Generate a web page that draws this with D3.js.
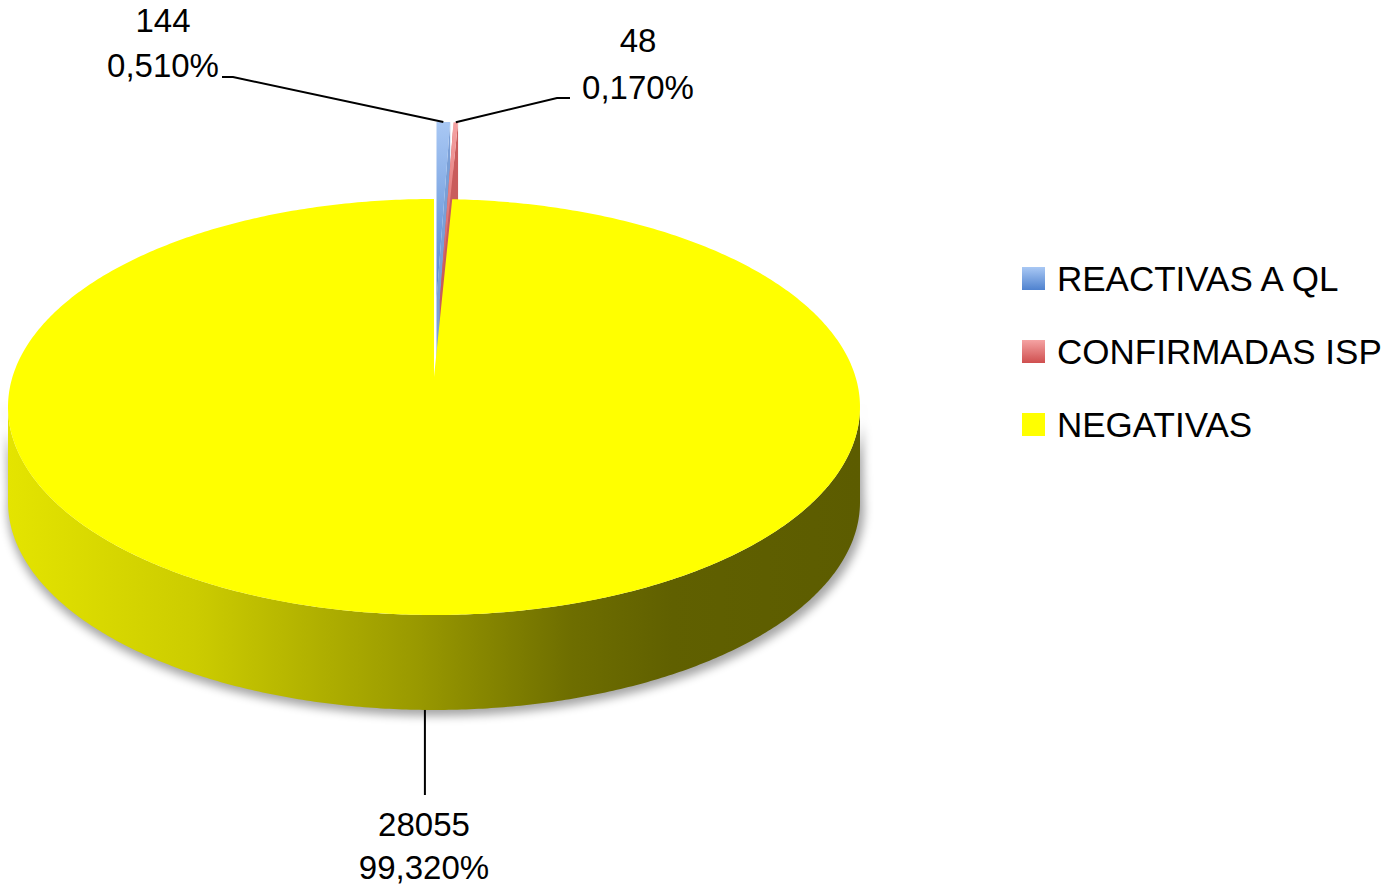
<!DOCTYPE html>
<html><head><meta charset="utf-8">
<script src="https://cdn.jsdelivr.net/npm/d3@7"></script>
<style>
body{margin:0;background:#fff}
svg{display:block}
text{font-family:"Liberation Sans",Arial,sans-serif;fill:#000}
</style>
</head><body>
<svg id="chart" width="1384" height="886"></svg>
<script>
// ---- data ----
const categories = ["REACTIVAS A QL", "CONFIRMADAS ISP", "NEGATIVAS"];
const values = [144, 48, 28055];
const exploded = [true, true, false];

// ---- styling ----
const topLight = ["#a9c8f4", "#f5a3a3", "#ffff00"];
const topDark  = ["#4f82cf", "#cf4f4f", "#ffff00"];
const wallCol  = ["#7a9fd6", "#c95c5c", "#9a9a00"];

const W = 1384, H = 886;
const cx = 434, cy = 407, rx = 426, ry = 208, depth = 95, apexY = 377;
const explode = 77;

const svg = d3.select("#chart");
const defs = svg.append("defs");

// gradients
const sideGrad = defs.append("linearGradient").attr("id","sideGrad")
  .attr("gradientUnits","userSpaceOnUse").attr("x1",cx-rx).attr("x2",cx+rx).attr("y1",0).attr("y2",0);
[[0,"#e4e400"],[0.22,"#cccc00"],[0.48,"#999900"],[0.66,"#6e6e00"],[0.78,"#606000"],[1,"#5c5c00"]]
  .forEach(([o,c]) => sideGrad.append("stop").attr("offset",o).attr("stop-color",c));
categories.forEach((c,i) => {
  const g = defs.append("linearGradient").attr("id","lg"+i).attr("x1",0).attr("x2",0).attr("y1",0).attr("y2",1);
  g.append("stop").attr("offset",0).attr("stop-color",topLight[i]);
  g.append("stop").attr("offset",1).attr("stop-color",topDark[i]);
});
const sh = defs.append("filter").attr("id","shadow").attr("x","-10%").attr("y","-10%").attr("width","120%").attr("height","130%");
sh.append("feGaussianBlur").attr("stdDeviation",5);

const pie = d3.pie().sort(null).value(d => d);
const arcs = pie(values);
const total = d3.sum(values);

const rim = (t, dx=0, dy=0) => [cx + rx*Math.sin(t) + dx, cy - ry*Math.cos(t) + dy];
const line = d3.line();
const steps = (a0, a1) => { const n = Math.max(2, Math.ceil(Math.abs(a1-a0)/0.01)); return d3.range(n+1).map(k => a0 + (a1-a0)*k/n); };

const offsets = arcs.map((a,i) => {
  if (!exploded[i]) return [0,0];
  const m = (a.startAngle + a.endAngle)/2;
  return [explode*(rx/ry)*Math.sin(m), -explode*Math.cos(m)];
});

// shadow of the whole pie body
const sideFront = steps(Math.PI/2 - 0.05, 3*Math.PI/2 + 0.05);
svg.append("path")
  .attr("d", line([...sideFront.map(t => { const p = rim(t); return [cx + (p[0]-cx)*1.006, p[1]+6]; }),
                   ...sideFront.slice().reverse().map(t => { const p = rim(t); return [cx + (p[0]-cx)*1.006 + 2, p[1]+depth+6]; })]) + "Z")
  .attr("fill","#000").attr("opacity",0.35).attr("filter","url(#shadow)");

// exploded slivers (behind)
arcs.forEach((a,i) => {
  if (!exploded[i]) return;
  const [dx,dy] = offsets[i];
  const ap = [cx+dx, apexY+dy];
  [a.startAngle, a.endAngle].forEach(t => {
    const r = rim(t,dx,dy);
    svg.append("path").attr("d", line([ap, r, [r[0], r[1]+depth], [ap[0], ap[1]+depth]]) + "Z")
      .attr("fill", wallCol[i]);
  });
  svg.append("path").attr("d", line([ap, ...steps(a.startAngle, a.endAngle).map(t => rim(t,dx,dy))]) + "Z")
    .attr("fill", `url(#lg${i})`);
});

// main slice: side wall then top face
arcs.forEach((a,i) => {
  if (exploded[i]) return;
  const s0 = Math.max(a.startAngle, Math.PI/2), s1 = Math.min(a.endAngle, 3*Math.PI/2);
  const ts = steps(s0, s1);
  svg.append("path")
    .attr("d", line([...ts.map(t => rim(t)), ...ts.slice().reverse().map(t => { const p = rim(t); return [p[0], p[1]+depth]; })]) + "Z")
    .attr("fill","url(#sideGrad)");
  svg.append("path")
    .attr("d", line([[cx, apexY], ...steps(a.startAngle, a.endAngle).map(t => rim(t))]) + "Z")
    .attr("fill", topLight[i]);
});

// ---- data labels ----
const fmtPct = v => (v/total*100).toFixed(3).replace(".", ",") + "%";
const labelLayout = [
  {x:163, y1:32, y2:77, path: p => [[222,77],[233,77],p]},
  {x:638, y1:52, y2:99, path: p => [p,[557,98],[570,98]]},
  {x:424, y1:836, y2:879, path: p => [p,[p[0],795]]}
];
arcs.forEach((a,i) => {
  const m = (a.startAngle + a.endAngle)/2;
  const [dx,dy] = offsets[i];
  let p = rim(m, dx, dy);
  if (!exploded[i]) p = [p[0], p[1]+depth];
  const L = labelLayout[i];
  svg.append("path").attr("d", line(L.path(p))).attr("fill","none").attr("stroke","#000").attr("stroke-width",2);
  svg.append("text").attr("x",L.x).attr("y",L.y1).attr("text-anchor","middle").attr("font-size",33).text(values[i]);
  svg.append("text").attr("x",L.x).attr("y",L.y2).attr("text-anchor","middle").attr("font-size",33).text(fmtPct(values[i]));
});

// ---- legend ----
const legend = svg.append("g").attr("transform","translate(1022,267)");
categories.forEach((c,i) => {
  const g = legend.append("g").attr("transform",`translate(0,${i*73})`);
  g.append("rect").attr("width",23).attr("height",23).attr("fill", `url(#lg${i})`);
  g.append("text").attr("x",35).attr("y",24).attr("font-size",35).text(c);
});
</script>
</body></html>
